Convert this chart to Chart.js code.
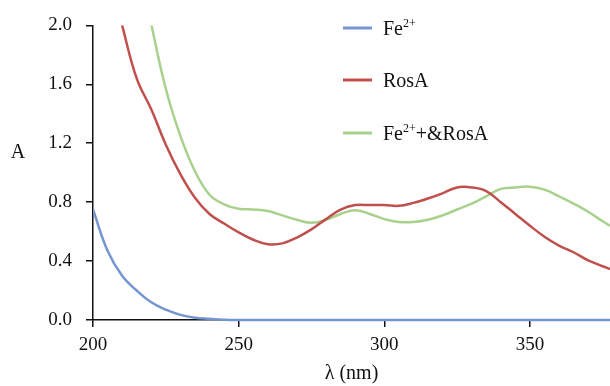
<!DOCTYPE html>
<html><head><meta charset="utf-8">
<script src="https://cdn.jsdelivr.net/npm/chart.js@4/dist/chart.umd.min.js"></script>
<style>html,body{margin:0;padding:0;background:#fff}#wrap{width:610px;height:386px;position:relative}</style>
</head><body><div id="wrap"><canvas id="c" width="610" height="386"></canvas></div>
<script>
// Wavelength grid (nm)
const wavelengths = [200,205,210,215,220,225,230,235,240,245,250,255,260,265,270,275,280,285,290,295,300,305,310,315,320,325,330,335,340,345,350,355,360,365,370,375,377.5];
// Absorbance series
const fe     = [0.75,0.47,0.30,0.20,0.12,0.07,0.035,0.016,0.008,0.002,0,0,0,0,0,0,0,0,0,0,0,0,0,0,0,0,0,0,0,0,0,0,0,0,0,0,0];
const rosA   = [null,2.38,2.0,1.64,1.43,1.19,0.99,0.83,0.72,0.655,0.595,0.545,0.515,0.52,0.56,0.615,0.685,0.75,0.78,0.78,0.78,0.775,0.795,0.825,0.86,0.90,0.90,0.875,0.80,0.72,0.64,0.565,0.505,0.46,0.405,0.365,0.345];
const feRosA = [null,null,null,2.5,2.01,1.57,1.25,1.01,0.85,0.785,0.755,0.75,0.74,0.71,0.68,0.66,0.68,0.72,0.745,0.72,0.685,0.665,0.665,0.68,0.71,0.75,0.79,0.84,0.89,0.90,0.905,0.885,0.84,0.79,0.735,0.67,0.64];
const seriesNames = ['Fe²⁺','RosA','Fe²⁺+&RosA'];
// legend text pieces: [text, isSuperscript]
const legendParts = [[['Fe',0],['2+',1]],[['RosA',0]],[['Fe',0],['2+',1],['+&RosA',0]]];
const xTicks = [200,250,300,350];
const yTicks = [0,0.4,0.8,1.2,1.6,2.0];
const colors = ['#7495cf','#c0504d','#a9d18e'];
const FONT = "'Liberation Serif', 'Times New Roman', serif";

const series = [fe, rosA, feRosA];
const datasets = series.map((vals,k)=>({
  label: seriesNames[k],
  data: wavelengths.map((w,i)=>({x:w,y:vals[i]})),
  borderColor: colors[k],
  backgroundColor: colors[k],
  borderWidth: 2.5,
  pointRadius: 0,
  tension: 0.4,
  fill: false,
  clip: {left:0, top:0, right:0, bottom:5}
}));

const extras = {
  id: 'extras',
  afterDraw(chart){
    const ctx = chart.ctx;
    ctx.save();
    ctx.fillStyle = '#111';
    ctx.font = '20px ' + FONT;
    ctx.textAlign = 'center';
    ctx.textBaseline = 'middle';
    ctx.fillText('A', 18, 153);
    // legend
    const rows = [28, 80, 133];
    legendParts.forEach((parts,k)=>{
      const y = rows[k];
      ctx.strokeStyle = colors[k];
      ctx.lineWidth = 3;
      ctx.beginPath(); ctx.moveTo(343,y); ctx.lineTo(372,y); ctx.stroke();
      let x = 383;
      ctx.textAlign = 'left';
      ctx.textBaseline = 'alphabetic';
      parts.forEach(([t,sup])=>{
        ctx.font = (sup ? '12px ' : '20px ') + FONT;
        ctx.fillStyle = '#111';
        ctx.fillText(t, x, sup ? y - 1 : y + 7);
        x += ctx.measureText(t).width;
      });
    });
    ctx.restore();
  }
};

new Chart(document.getElementById('c'), {
  type: 'line',
  data: { datasets },
  plugins: [extras],
  options: {
    responsive: false,
    animation: false,
    devicePixelRatio: 1,
    layout: { padding: { top: 22, right: 0, left: 0, bottom: 0 } },
    plugins: { legend: { display: false }, tooltip: { enabled: false } },
    scales: {
      x: {
        type: 'linear', min: 200, max: 377.5,
        afterBuildTicks(s){ s.ticks = xTicks.map(v=>({value:v})); },
        afterFit(s){ s.height = 66; },
        grid: { drawOnChartArea: false, drawTicks: true, tickLength: 7, color: '#111', lineWidth: 1.5 },
        border: { display: true, color: '#111', width: 1.5 },
        ticks: { color: '#111', font: { family: FONT, size: 19 }, padding: 7, maxRotation: 0 },
        title: { display: true, text: 'λ (nm)', color: '#111', font: { family: FONT, size: 20 }, padding: { top: 0, bottom: 0 } }
      },
      y: {
        type: 'linear', min: 0, max: 2.0,
        afterBuildTicks(s){ s.ticks = yTicks.map(v=>({value:v})); },
        afterFit(s){ s.width = 93; },
        grid: { drawOnChartArea: false, drawTicks: true, tickLength: 7, color: '#111', lineWidth: 1.5 },
        border: { display: true, color: '#111', width: 1.5 },
        ticks: { color: '#111', font: { family: FONT, size: 19 }, padding: 14, callback: v => v.toFixed(1) }
      }
    }
  }
});
</script></body></html>
